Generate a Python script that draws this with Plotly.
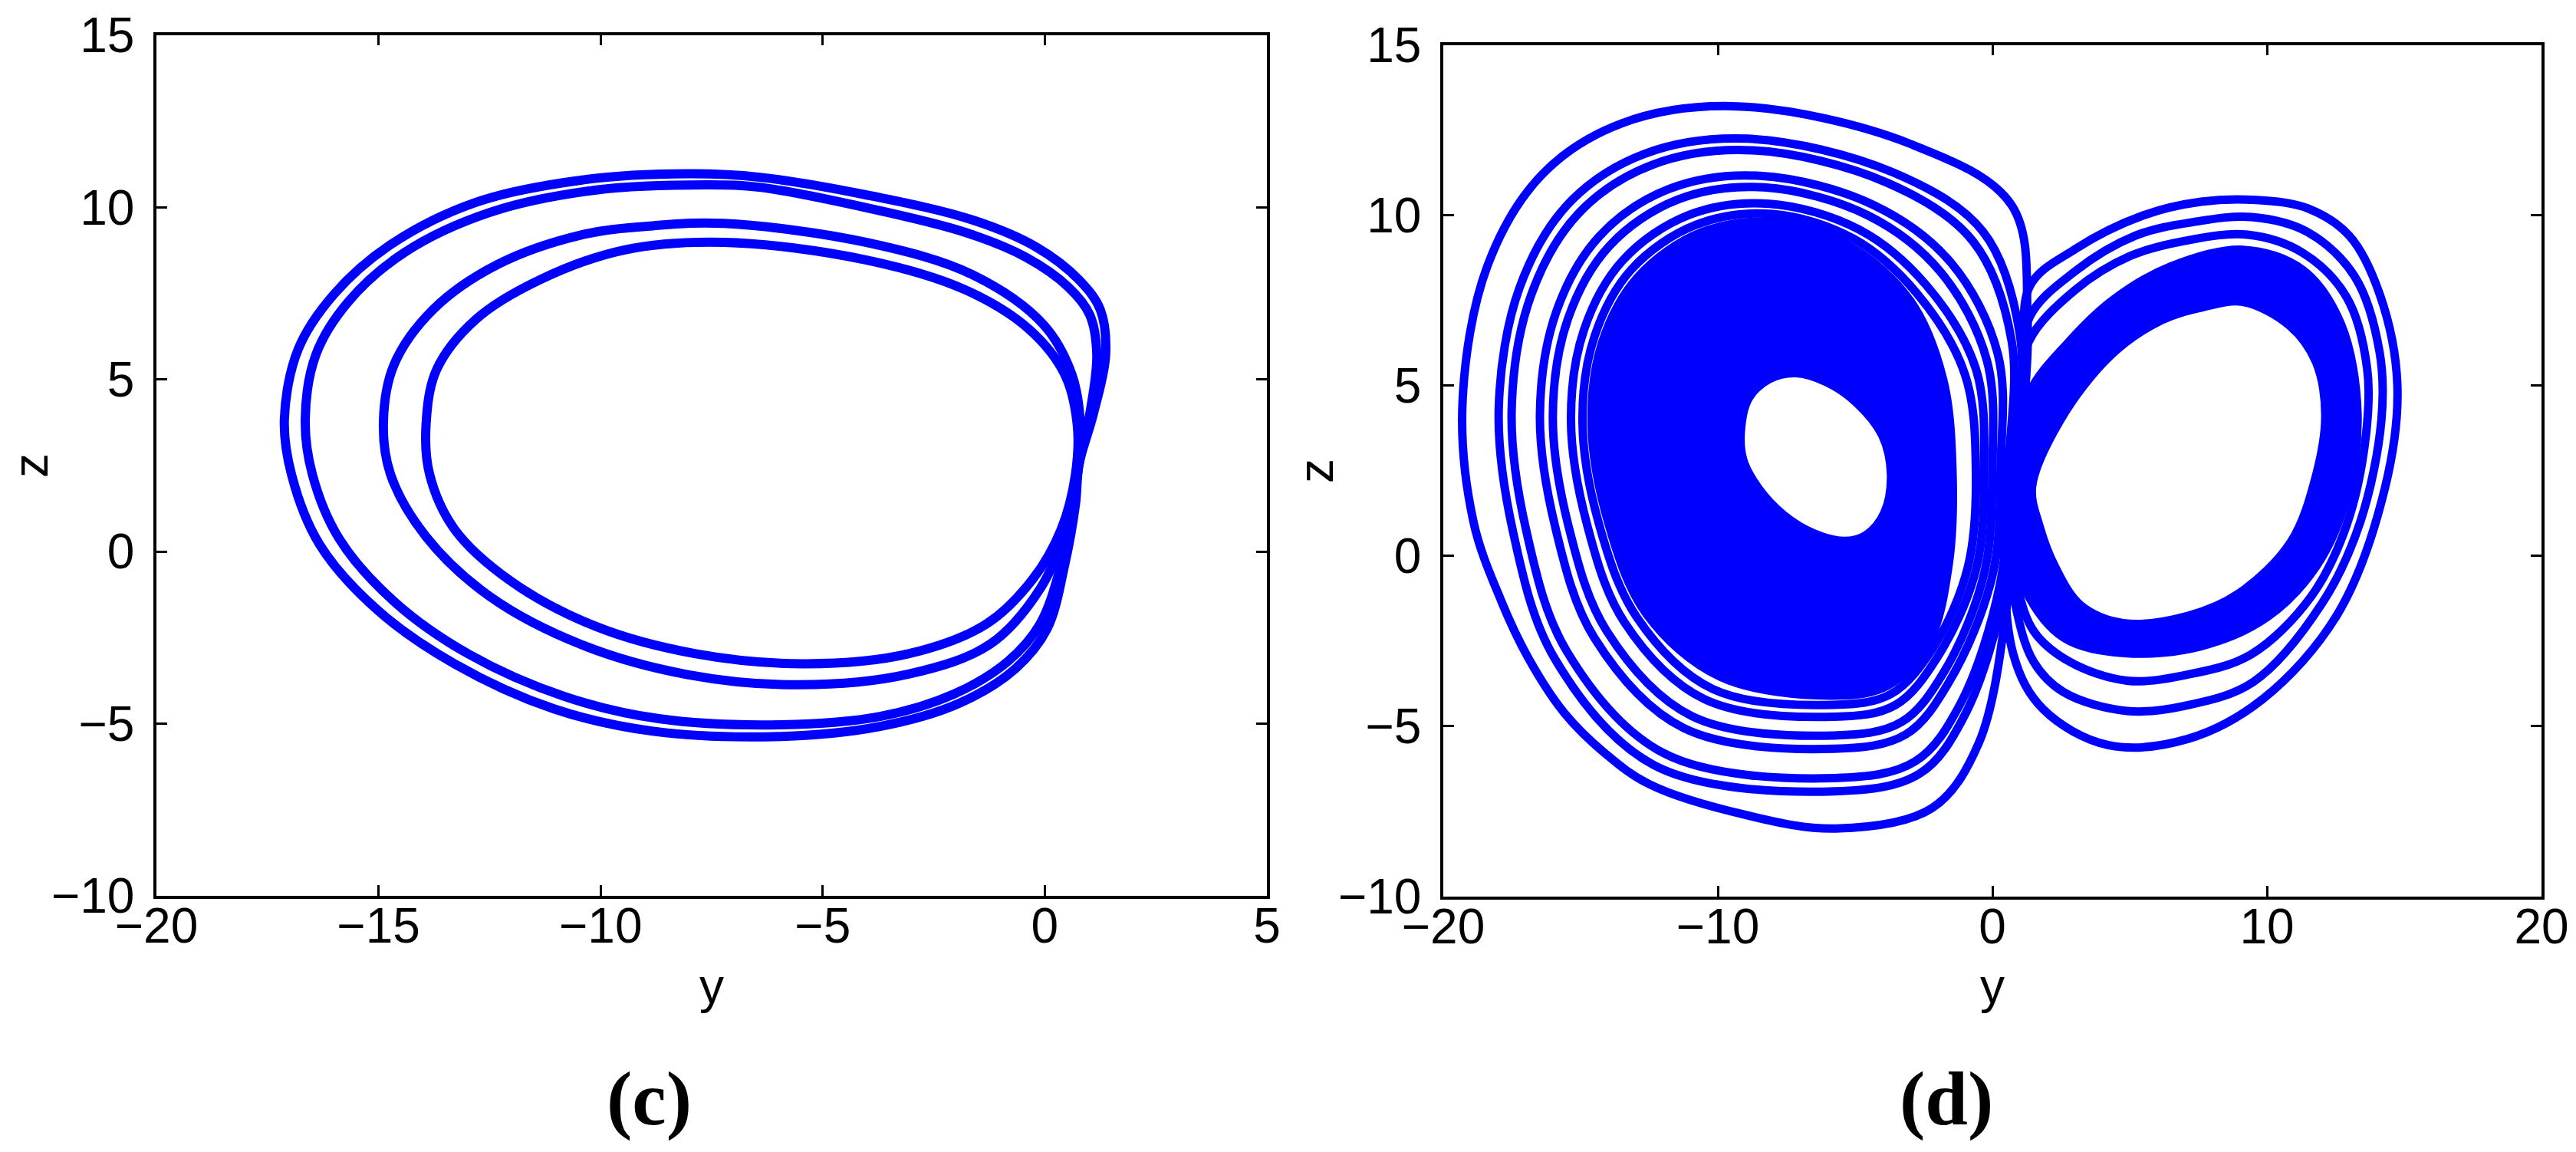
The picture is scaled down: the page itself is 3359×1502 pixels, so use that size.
import plotly.graph_objects as go

# ---------------- panel (c): periodic orbit, y-z projection ----------------
c_loop_a_y = [0.77, 1.09, 1.37, 1.25, 0.77, -0.19, -1.63, -4.03, -6.42, -8.02, -10.42, -12.81, -14.73, -16.01, -16.81, -17.12, -16.96, -16.33, -15.05, -13.29, -11.05, -8.82, -5.94, -3.71, -1.95, -0.67, 0.05, 0.45, 0.69, 0.77]
c_loop_a_z = [2.53, 3.98, 5.72, 7.02, 7.89, 8.84, 9.63, 10.36, 10.87, 10.97, 10.79, 10.14, 8.91, 7.46, 5.87, 3.84, 2.24, 0.21, -1.67, -3.26, -4.57, -5.22, -5.37, -5.08, -4.42, -3.41, -2.25, -0.37, 1.37, 2.53]
c_loop_b_y = [0.77, 1.01, 1.17, 1.01, 0.53, -0.43, -1.79, -4.03, -6.42, -7.54, -10.10, -12.49, -14.41, -15.69, -16.41, -16.65, -16.49, -15.88, -14.65, -12.97, -10.81, -8.66, -5.94, -3.71, -2.03, -0.83, -0.11, 0.37, 0.64, 0.77]
c_loop_b_z = [2.53, 3.98, 5.72, 6.88, 7.68, 8.55, 9.27, 9.99, 10.58, 10.65, 10.50, 9.85, 8.69, 7.24, 5.72, 3.84, 2.24, 0.36, -1.45, -2.98, -4.21, -4.86, -5.03, -4.79, -4.13, -3.19, -2.11, -0.37, 1.37, 2.53]
c_loop_c_y = [0.73, 0.80, 0.61, -0.03, -1.63, -4.03, -7.22, -8.82, -10.42, -12.33, -13.77, -14.65, -14.89, -14.73, -13.93, -12.49, -10.42, -8.02, -5.54, -3.07, -1.23, -0.11, 0.48, 0.73]
c_loop_c_z = [2.24, 3.69, 5.14, 6.59, 8.04, 8.98, 9.53, 9.46, 9.20, 8.33, 7.03, 5.43, 3.76, 2.24, 0.43, -1.31, -2.71, -3.58, -3.87, -3.56, -2.69, -1.09, 0.65, 2.24]
c_loop_d_y = [0.69, 0.73, 0.45, -0.35, -1.79, -4.03, -7.22, -9.46, -11.37, -12.81, -13.69, -13.93, -13.85, -13.29, -12.01, -10.10, -7.86, -5.38, -3.07, -1.31, -0.27, 0.37, 0.69]
c_loop_d_z = [2.24, 3.69, 5.14, 6.45, 7.60, 8.47, 8.98, 8.76, 7.89, 6.74, 5.29, 3.69, 2.24, 0.65, -0.87, -2.18, -2.97, -3.26, -2.97, -2.10, -0.80, 0.65, 2.24]

# ---------------- panel (d): chaotic attractor, y-z projection ----------------
# left wing: ring bordering the empty hole
d_left_hole_y = [-3.68, -4.0, -4.93, -6.05, -7.17, -8.14, -8.9, -9.18, -9.09, -8.54, -7.62, -6.5, -5.39, -4.6, -3.93]
d_left_hole_z = [2.39, 3.55, 4.5, 5.12, 5.38, 5.2, 4.62, 3.62, 2.82, 1.99, 1.2, 0.65, 0.43, 0.6, 1.25]
# left wing: outer edge of the dense band (solid between hole ring and this edge)
d_left_band_y = [-1.45, -1.8, -3.0, -5.2, -7.9, -10.6, -12.9, -14.2, -14.6, -14.0, -12.6, -9.9, -5.8, -3.8, -2.3, -1.6]
d_left_band_z = [2.4, 5.2, 7.5, 9.1, 9.8, 9.5, 8.2, 6.3, 3.9, 1.0, -1.7, -3.55, -4.1, -3.8, -2.5, -0.3]
# left wing: separate outer rings
d_left_outer1_y = [-0.6, -1.0, -2.74, -5.05, -8.0, -10.8, -13.15, -14.49, -14.93, -14.34, -12.95, -10.2, -5.79, -3.69, -2.17, -0.9]
d_left_outer1_z = [2.44, 5.33, 7.7, 9.31, 10.04, 9.72, 8.41, 6.45, 3.94, 0.97, -1.8, -3.9, -4.37, -4.05, -2.71, -0.35]
d_left_outer2_y = [-0.3, -0.6, -2.41, -4.85, -8.12, -11.06, -13.46, -14.87, -15.35, -14.77, -13.4, -10.5, -5.78, -3.54, -2.01, -0.6]
d_left_outer2_z = [2.5, 5.49, 7.95, 9.58, 10.34, 10.01, 8.68, 6.65, 4.0, 0.94, -1.95, -4.2, -4.72, -4.38, -2.98, -0.41]
d_left_outer3_y = [0.0, -0.2, -1.89, -4.54, -8.32, -11.47, -13.95, -15.46, -16.01, -15.44, -14.05, -10.95, -5.77, -3.32, -1.76, -0.3]
d_left_outer3_z = [2.58, 5.74, 8.34, 10.0, 10.82, 10.46, 9.1, 6.96, 4.08, 0.88, -2.2, -4.7, -5.27, -4.88, -3.4, -0.51]
d_left_outer4_y = [0.3, 0.2, -1.52, -4.32, -8.46, -11.76, -14.3, -15.88, -16.48, -15.92, -14.5, -11.25, -5.76, -3.16, -1.58, 0.0]
d_left_outer4_z = [2.64, 5.92, 8.62, 10.3, 11.16, 10.78, 9.4, 7.18, 4.14, 0.84, -2.4, -5.05, -5.66, -5.24, -3.7, -0.58]
d_left_outer5_y = [0.6, 0.7, -0.71, -3.84, -8.77, -12.4, -15.07, -16.8, -17.51, -16.98, -15.5, -11.95, -5.74, -2.81, -1.18, 0.3]
d_left_outer5_z = [2.77, 6.32, 9.24, 10.96, 11.91, 11.48, 10.06, 7.66, 4.27, 0.75, -2.8, -5.8, -6.52, -6.03, -4.36, -0.73]
d_left_outer6_y = [0.85, 1.0, -0.34, -3.62, -8.91, -12.69, -15.42, -17.22, -17.98, -17.46, -15.95, -12.3, -5.73, -2.65, -1.0, 0.5]
d_left_outer6_z = [2.83, 6.5, 9.52, 11.26, 12.25, 11.8, 10.36, 7.88, 4.33, 0.71, -3.0, -6.15, -6.91, -6.39, -4.66, -0.8]
d_left_outer7_y = [1.0, 1.28, 0.7, -3.0, -9.3, -13.5, -16.4, -18.4, -19.3, -18.9, -17.9, -16.9, -15.6, -14.1, -12.5, -9.0, -5.7, -2.2, -0.5, 0.6]
d_left_outer7_z = [3.0, 7.0, 10.3, 12.1, 13.2, 12.7, 11.2, 8.5, 4.5, 1.0, -1.3, -3.0, -4.6, -5.8, -6.7, -7.6, -8.0, -7.4, -5.5, -1.0]
# right wing: ring bordering the empty hole
d_right_hole_y = [1.43, 2.45, 4.3, 6.15, 7.6, 9.12, 10.85, 11.8, 12.14, 11.8, 10.88, 9.0, 7.12, 4.76, 3.2, 2.27, 1.7]
d_right_hole_z = [2.03, 3.98, 5.9, 6.93, 7.3, 7.47, 6.76, 5.7, 4.15, 2.35, 0.4, -1.1, -1.77, -1.98, -1.45, -0.32, 0.88]
# right wing: outer edge of the dense band
d_right_band_y = [0.4, 1.31, 2.8, 4.4, 6.5, 9.12, 11.3, 12.7, 13.3, 12.9, 11.8, 10.0, 7.6, 4.8, 2.6, 1.2]
d_right_band_z = [1.5, 4.74, 6.3, 7.52, 8.5, 8.99, 8.4, 6.8, 4.15, 1.7, -0.3, -1.8, -2.65, -2.85, -2.4, -1.0]
# right wing: separate outer rings
d_right_outer1_y = [0.3, 1.0, 1.33, 3.0, 5.0, 7.0, 9.3, 11.3, 12.9, 13.65, 13.6, 12.9, 11.6, 9.4, 7.0, 4.9, 2.8, 1.5, 0.8]
d_right_outer1_z = [1.3, 4.5, 6.3, 7.8, 8.8, 9.25, 9.43, 8.9, 7.6, 5.5, 3.5, 0.9, -1.2, -2.9, -3.5, -3.66, -3.1, -2.2, -0.6]
d_right_outer2_y = [0.4, 1.1, 1.35, 3.0, 5.2, 7.3, 9.45, 11.5, 13.2, 14.1, 14.17, 13.4, 12.0, 9.5, 7.0, 4.9, 2.6, 1.5, 0.8]
d_right_outer2_z = [1.4, 4.8, 7.0, 8.35, 9.4, 9.8, 9.95, 9.5, 8.2, 6.0, 4.0, 1.0, -1.4, -3.7, -4.4, -4.55, -4.0, -3.1, -1.3]
d_right_outer3_y = [0.5, 1.2, 1.35, 3.0, 5.5, 7.6, 9.6, 11.5, 13.0, 14.1, 14.75, 14.3, 12.57, 9.85, 7.12, 4.21, 1.85, 0.76]
d_right_outer3_z = [1.5, 5.0, 7.9, 9.0, 10.0, 10.4, 10.45, 10.2, 9.4, 7.7, 5.03, 2.0, -1.71, -4.2, -5.37, -5.55, -4.5, -2.88]

# axis ticks
c_y_ticks = [-20, -15, -10, -5, 0, 5]
d_y_ticks = [-20, -10, 0, 10, 20]
z_ticks = [-10, -5, 0, 5, 10, 15]

BLUE = "#0000FF"
fig = go.Figure()


def closed(vals):
    vals = list(vals)
    return vals + [vals[0]]


def add_loop(ys, zs, width, xa, ya, fill=None):
    kw = {}
    if fill is not None:
        kw = dict(fill="toself", fillcolor=fill)
    fig.add_trace(go.Scatter(
        x=closed(ys), y=closed(zs), mode="lines", xaxis=xa, yaxis=ya,
        line=dict(color=BLUE, width=width, shape="spline", smoothing=1.0),
        hoverinfo="skip", showlegend=False, **kw))


for ys, zs in [(c_loop_a_y, c_loop_a_z), (c_loop_b_y, c_loop_b_z),
               (c_loop_c_y, c_loop_c_z), (c_loop_d_y, c_loop_d_z)]:
    fig.add_trace(go.Scatter(
        x=ys, y=zs, mode="lines", xaxis="x", yaxis="y",
        line=dict(color=BLUE, width=12, shape="spline", smoothing=1.0),
        hoverinfo="skip", showlegend=False))

# dense bands (solid), then the empty holes
add_loop(d_left_band_y, d_left_band_z, 11, "x2", "y2", fill=BLUE)
add_loop(d_right_band_y, d_right_band_z, 11, "x2", "y2", fill=BLUE)
add_loop(d_left_hole_y, d_left_hole_z, 12, "x2", "y2", fill="white")
add_loop(d_right_hole_y, d_right_hole_z, 12, "x2", "y2", fill="white")

for ys, zs in [(d_left_outer1_y, d_left_outer1_z), (d_left_outer2_y, d_left_outer2_z),
               (d_left_outer3_y, d_left_outer3_z), (d_left_outer4_y, d_left_outer4_z),
               (d_left_outer5_y, d_left_outer5_z), (d_left_outer6_y, d_left_outer6_z),
               (d_left_outer7_y, d_left_outer7_z),
               (d_right_outer1_y, d_right_outer1_z), (d_right_outer2_y, d_right_outer2_z),
               (d_right_outer3_y, d_right_outer3_z)]:
    add_loop(ys, zs, 11, "x2", "y2")

FONT = "Liberation Sans, Arial, Helvetica, sans-serif"
SERIF = "Liberation Serif, Times New Roman, serif"
axis_common = dict(showgrid=False, zeroline=False, showline=True, linecolor="black",
                   linewidth=3.5, mirror="ticks", ticks="inside", ticklen=14,
                   tickwidth=3, tickcolor="black", automargin=False,
                   tickfont=dict(family=FONT, size=64, color="black"))
xaxis_common = dict(axis_common, ticklabelstandoff=-20)
yaxis_common = dict(axis_common, ticklabelstandoff=12)

W, H = 3359, 1502


def px(xp, yp):
    return xp / W, 1 - yp / H


def label(text, xp, yp, size=64, family=FONT, angle=0):
    x, y = px(xp, yp)
    return dict(text=text, x=x, y=y, xref="paper", yref="paper", xanchor="center",
                yanchor="middle", showarrow=False, textangle=angle,
                font=dict(family=family, size=size, color="black"))


fig.update_layout(
    width=W, height=H, autosize=False,
    margin=dict(l=0, r=0, t=0, b=0, pad=0),
    paper_bgcolor="white", plot_bgcolor="white", showlegend=False,
    font=dict(family=FONT, size=64, color="black"),
    xaxis=dict(xaxis_common, domain=[204 / W, 1652 / W], range=[-20, 5],
               tickvals=c_y_ticks, anchor="y"),
    yaxis=dict(yaxis_common, domain=[1 - 1168 / H, 1 - 45.7 / H], range=[-10, 15],
               tickvals=z_ticks, anchor="x"),
    xaxis2=dict(xaxis_common, domain=[1882 / W, 3314 / W], range=[-20, 20],
                tickvals=d_y_ticks, anchor="y2"),
    yaxis2=dict(yaxis_common, domain=[1 - 1169 / H, 1 - 58.7 / H], range=[-10, 15],
                tickvals=z_ticks, anchor="x2"),
    annotations=[
        label("y", 928, 1286),
        label("y", 2598, 1286),
        label("z", 40, 607, angle=-90),
        label("z", 1716, 614, angle=-90),
        label("<b>(c)</b>", 846, 1432, size=100, family=SERIF),
        label("<b>(d)</b>", 2538, 1432, size=100, family=SERIF),
    ],
)

fig.write_html("out.html", config={"displayModeBar": False},
               post_script="document.body.style.margin='0px';")
